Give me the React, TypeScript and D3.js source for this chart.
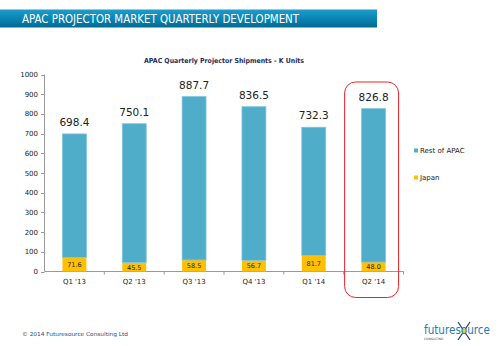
import React from "react";
import * as d3 from "d3";

const categories = ["Q1 '13", "Q2 '13", "Q3 '13", "Q4 '13", "Q1 '14", "Q2 '14"];
const japan = [71.6, 45.5, 58.5, 56.7, 81.7, 48.0];
const restOfApac = [626.8, 704.6, 829.2, 779.8, 650.6, 778.8];
const yTicks = [0, 100, 200, 300, 400, 500, 600, 700, 800, 900, 1000];
const seriesNames = ["Rest of APAC", "Japan"];

const W = 500;
const H = 346;
const BLUE = "#4fadc9";
const YELLOW = "#ffc000";
const FONT = "'DejaVu Sans', Verdana, sans-serif";

export default function App() {
  const x = d3.scaleBand<string>().domain(categories).range([44.5, 403.5]).paddingInner(0.6).paddingOuter(0.3);
  const y = d3.scaleLinear().domain([0, 1000]).range([271.5, 74.5]);
  const band = d3.scaleBand<string>().domain(categories).range([44.5, 403.5]);
  const last = categories[categories.length - 1];
  const lx = x(last)!;

  return (
    <svg width={W} height={H} style={{ position: "absolute", left: 0, top: 0, background: "#fff" }}>
      <defs>
        <linearGradient id="hdr" x1="0" y1="0" x2="0" y2="1">
          <stop offset="0" stopColor="#1e9ccb" />
          <stop offset="0.5" stopColor="#0a86b5" />
          <stop offset="1" stopColor="#016a92" />
        </linearGradient>
      </defs>
      <rect x={0} y={9.5} width={377} height={18} fill="url(#hdr)" />
      <text x={22} y={23} fill="#fff" fontFamily={FONT} fontSize={12.5} textLength={277} lengthAdjust="spacingAndGlyphs">
        APAC PROJECTOR MARKET QUARTERLY DEVELOPMENT
      </text>

      <text x={224} y={62.5} textAnchor="middle" fill="#1f2d5a" fontFamily={FONT} fontWeight="bold" fontSize={6.8} textLength={160} lengthAdjust="spacingAndGlyphs">
        APAC Quarterly Projector Shipments - K Units
      </text>

      {/* y axis */}
      <line x1={44.5} x2={44.5} y1={y(1000)} y2={y(0)} stroke="#999" />
      {yTicks.map((t) => (
        <g key={t}>
          <line x1={41} x2={44.5} y1={Math.round(y(t)) + 0.5} y2={Math.round(y(t)) + 0.5} stroke="#999" />
          <text x={38} y={y(t) + 2.5} textAnchor="end" fontFamily={FONT} fontSize={7} fill="#222">{t}</text>
        </g>
      ))}
      {/* x axis */}
      <line x1={44.5} x2={403.5} y1={y(0)} y2={y(0)} stroke="#999" />
      {categories.map((c, i) => (
        <g key={c}>
          <line x1={band(c)! + band.bandwidth()} x2={band(c)! + band.bandwidth()} y1={y(0)} y2={y(0) + 3} stroke="#999" />
          <text x={x(c)! + x.bandwidth() / 2} y={284} textAnchor="middle" fontFamily={FONT} fontSize={7} fill="#222">{c}</text>
        </g>
      ))}

      {categories.map((c, i) => {
        const bx = x(c)!;
        const bw = x.bandwidth();
        const total = japan[i] + restOfApac[i];
        return (
          <g key={c}>
            <rect x={bx} y={y(japan[i])} width={bw} height={y(0) - y(japan[i])} fill={YELLOW} />
            <rect x={bx} y={y(total)} width={bw} height={y(japan[i]) - y(total)} fill={BLUE} stroke="#7fc6dc" strokeWidth={0.8} />
            <text x={bx + bw / 2} y={y(japan[i] / 2) + 2.5} textAnchor="middle" fontFamily={FONT} fontSize={6.5} fill="#222">
              {japan[i].toFixed(1)}
            </text>
            <text x={bx + bw / 2} y={y(total) - 8} textAnchor="middle" fontFamily={FONT} fontSize={10.5} fill="#222">
              {total.toFixed(1)}
            </text>
          </g>
        );
      })}

      {/* highlight */}
      <rect x={lx - 17} y={82} width={x.bandwidth() + 30} height={215.5} rx={11} ry={11} fill="none" stroke="#e8262a" strokeWidth={1} />

      {/* legend */}
      {seriesNames.map((s, i) => (
        <g key={s}>
          <rect x={414} y={148.5 + i * 27} width={4} height={4} fill={i === 0 ? BLUE : YELLOW} />
          <text x={420} y={153 + i * 27} fontFamily={FONT} fontSize={7} fill="#222">{s}</text>
        </g>
      ))}

      {/* footer */}
      <text x={22} y={336} fontFamily={FONT} fontSize={5.5} fill="#2a4a7a" textLength={106} lengthAdjust="spacingAndGlyphs">
        © 2014 Futuresource Consulting Ltd
      </text>
      <g>
        <line x1={458} y1={322} x2={470} y2={340} stroke="#1f3a6a" strokeWidth={1.2} />
        <line x1={470} y1={322} x2={458} y2={340} stroke="#1f3a6a" strokeWidth={1.2} />
        <circle cx={464} cy={331} r={2.5} fill="#f3c93a" />
        <text x={424} y={334} fontFamily={FONT} fontSize={12} fill="#2a7ab5" textLength={66} lengthAdjust="spacingAndGlyphs">
          futuresource
        </text>
        <text x={424} y={340} fontFamily={FONT} fontSize={3} fill="#2a4a7a">CONSULTING</text>
      </g>
    </svg>
  );
}
